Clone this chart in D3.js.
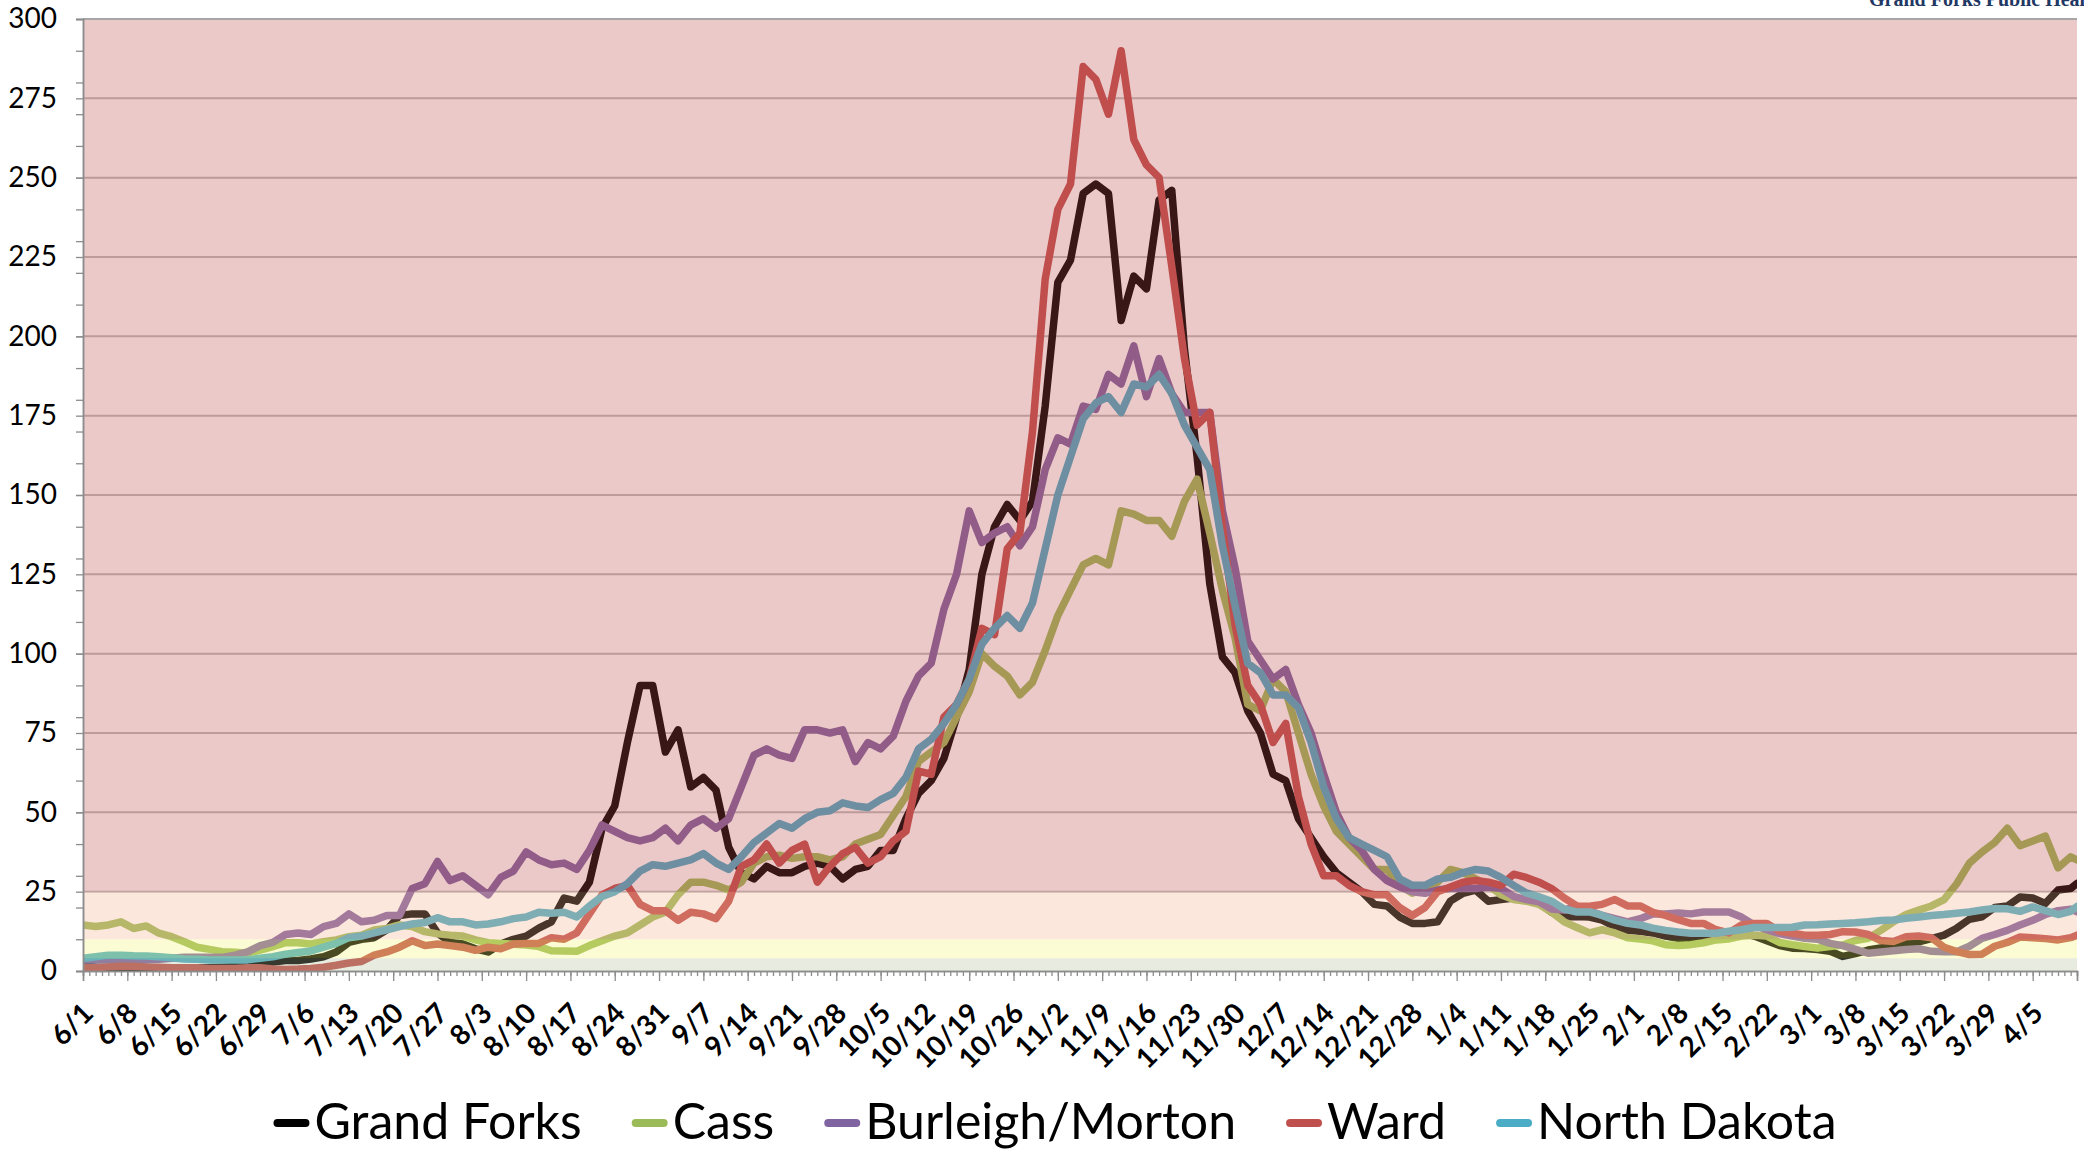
<!DOCTYPE html>
<html>
<head>
<meta charset="utf-8">
<script src="https://cdn.jsdelivr.net/npm/d3@7"></script>
<style>
  body { margin: 0; background: #ffffff; }
  svg { display: block; font-family: Lato, "Open Sans", sans-serif; }
</style>
</head>
<body>
<div id="grafica"></div>
<script>

// Fechas: primer día de la serie y días de muestra (cada 2 días, más el último)
var startDate = new Date(2020, 5, 1);
var lastDay = 315; // 4/12
var sampleDays = d3.range(0, lastDay, 2).concat([lastDay]);

// Valores (media móvil por 100.000), uno por día de muestra
var grandForks = [
  1.8, 1.2, 0.8, 0.5, 0.5, 0.6, 0.8, 0.8, 1.0, 1.0,
  1.0, 1.2, 1.4, 1.8, 2.2, 2.8, 3.3, 3.3, 3.8, 4.5,
  6.0, 9.0, 10.0, 10.5, 13.0, 17.5, 18.0, 18.0, 12.0, 9.0,
  8.5, 7.0, 6.0, 8.5, 10.0, 11.0, 13.5, 15.5, 23, 22,
  28, 45, 52, 72, 90, 90, 69, 76, 58, 61,
  57, 39, 31, 29, 33, 31, 31, 33, 34, 33,
  29, 32, 33, 38, 38, 48, 56, 60, 67, 80,
  95, 125, 140, 147, 142, 148, 178, 217, 224, 245,
  248, 245, 205, 219, 215, 243, 246, 196, 162, 122,
  99, 94, 82, 75, 62, 60, 48, 42, 36, 31,
  28, 25, 21, 20.5, 17, 15, 15, 15.5, 22, 24.5,
  25.5, 22, 22.5, 23, 22.5, 21.5, 18.5, 17, 17.2, 17,
  16, 14, 12.8, 12.5, 12, 11, 10.3, 10, 10.4, 11,
  12, 12.3, 11, 9.5, 8, 7.2, 7.1, 6.8, 6.2, 4.6,
  5.5, 6.6, 7.3, 7.9, 8.7, 9.2, 10.2, 11.3, 13.5, 16.3,
  17.1, 20, 20.5, 23.3, 23, 21.3, 25.5, 26, 27.6
];

var cass = [
  14.5, 14, 14.5, 15.5, 13.4, 14.2, 11.9, 10.8, 9.2, 7.5,
  6.8, 6.1, 5.9, 5.6, 6.6, 7.7, 8.9, 8.9, 8.5, 9.2,
  9.8, 10.8, 11.3, 12.9, 13.4, 14.5, 14, 12.4, 11.7, 11.3,
  11, 9.8, 8.9, 8.7, 8.4, 8.2, 7.7, 6.4, 6.3, 6.2,
  8, 9.5, 11, 12, 14.5, 17, 18.5, 24, 28, 28,
  27, 25.5, 28, 34, 36, 36.5, 35.5, 36, 36, 35,
  36, 40, 41.5, 43, 49, 55, 66, 69, 72, 80,
  88, 100, 96, 93, 87, 91, 101, 112, 120, 128,
  130, 128, 145, 144, 142, 142, 137, 148, 155, 138,
  120, 105, 84, 82, 92, 88, 75, 62, 52, 44,
  40, 36, 32, 32, 27, 24.5, 26, 28, 32, 31,
  29, 27, 24, 22.5, 22, 21, 18.5, 15.5, 13.7, 12,
  13, 12, 10.5, 10.1, 9.5, 8.3, 8, 8.3, 8.9, 9.8,
  10.1, 11, 11.3, 11, 9, 8.3, 7.7, 7.2, 7.7, 8.2,
  9.6, 10.3, 12.8, 15.5, 17.8, 19.2, 20.5, 22.5, 27.5, 34,
  37.5, 40.5, 45, 39.5, 41, 42.5, 32.5, 36, 35
];

var burleighMorton = [
  3.5, 3.5, 3.5, 3.2, 3.4, 3.5, 3.7, 4.0, 4.3, 4.3,
  4.3, 4.3, 5.0, 6.0, 8.0, 9.0, 11.5, 12.0, 11.5, 14.0,
  15.0, 18.0, 15.5, 16.0, 17.5, 17.5, 26.0, 27.5, 34.5, 28.5,
  30.0, 27.0, 24.0, 29.5, 31.5, 37.5, 35.0, 33.5, 34, 32,
  38, 46, 44, 42, 41, 42, 45, 41, 46, 48,
  45, 48, 58, 68, 70, 68, 67, 76, 76, 75,
  76, 66, 72, 70, 74, 85, 93, 97, 114, 125,
  145, 135, 138, 140, 134, 140, 158, 168, 166, 178,
  177, 188, 185, 197, 181, 193, 182, 176, 176, 176,
  145, 127, 104, 98, 92, 95, 84, 75, 62, 50,
  42, 38, 32, 28.5, 26.5, 25, 24.5, 25.5, 26, 26,
  26, 26.5, 26, 23.5, 22.5, 21.8, 19.5, 19.2, 20.5, 19,
  17.5, 16.5, 15.5, 16.5, 18, 18, 18.3, 18, 18.6, 18.6,
  18.6, 17, 14.5, 13, 11.8, 11, 10.3, 10, 8.7, 8,
  6.8, 5.6, 6, 6.4, 6.8, 7, 6.2, 6.1, 6.1, 7.8,
  10.3, 11.5, 12.8, 14.5, 16, 17.8, 19, 19.5, 18.7
];

var ward = [
  1.0, 1.0, 1.3, 1.5, 1.5, 1.3, 1.2, 1.0, 1.0, 1.0,
  0.8, 0.8, 0.8, 1.0, 1.0, 0.6, 0.5, 0.6, 0.8, 1.2,
  1.8, 2.5, 3.0, 5.0, 6.0, 7.5, 9.5, 8.0, 8.5, 8.0,
  7.5, 6.5, 7.5, 7.0, 8.5, 8.7, 8.7, 10.5, 10, 12,
  18, 24, 26, 27, 21, 19, 19, 16, 18.5, 18,
  16.5, 22, 33, 35, 40, 34, 38, 40, 28, 33,
  37, 39, 34, 36, 41, 44, 63, 62, 80, 84,
  92, 108, 106, 133, 138, 170, 218, 240, 248, 285,
  281, 270, 290, 262, 254, 250, 222, 193, 172, 176,
  140, 109, 90, 84, 72, 78, 55, 40, 30, 30,
  27, 25, 24, 24, 20, 17.5, 20, 25, 26.5, 28,
  28.5, 28, 27, 30.5, 29.5, 28, 26, 23, 20.5, 20.4,
  21, 22.5, 20.5, 20.5, 18.5, 17.5, 16.2, 15, 15, 13,
  12, 14.5, 15, 15, 12.5, 11.9, 11.3, 11.3, 11.5, 12.4,
  12.3, 11.5, 9.6, 9.3, 10.8, 11, 10.5, 7.5, 6.1, 5.2,
  5.3, 7.8, 9, 10.7, 10.5, 10.2, 9.8, 10.5, 11.3
];

var northDakota = [
  4.0, 4.5, 5.0, 5.0, 4.8, 4.7, 4.5, 4.2, 3.8, 3.7,
  3.5, 3.5, 3.5, 3.5, 4.0, 4.5, 5.3, 5.8, 6.3, 7.5,
  8.7, 10.5, 11.0, 12.0, 13.0, 14.0, 14.8, 15.3, 16.8, 15.5,
  15.5, 14.5, 14.8, 15.5, 16.5, 17.0, 18.5, 18.2, 18.5, 17,
  20.5, 23.5, 25, 27.5, 31.5, 33.5, 33, 34, 35, 37,
  34, 32, 36, 40.5, 43.5, 46.5, 45, 48, 50, 50.5,
  53, 52, 51.5, 54, 56, 61, 70, 73, 78, 84,
  92, 103, 108, 112, 108, 116, 133, 150, 162, 174,
  179, 181, 176, 185, 184, 188, 182, 172, 165, 158,
  134, 115, 97, 94, 87, 87, 83, 72, 58, 48,
  42, 40, 38, 36, 29, 27, 27, 29, 29.5, 31,
  32, 31.5, 29.5, 27, 24.6, 23.4, 22, 19.5, 18.6, 18.6,
  17.5, 16, 15, 14.5, 13.5, 12.8, 12.3, 11.9, 11.9, 11.9,
  12.5, 13, 13.7, 13.7, 13.7, 13.8, 14.5, 14.6, 14.8, 15,
  15.2, 15.5, 15.9, 16.1, 16.6, 17, 17.5, 17.8, 18.2, 18.6,
  19.2, 19.7, 19.6, 18.8, 20.2, 19, 17.8, 18.8, 20.3
];

var seriesNames = ["Grand Forks", "Cass", "Burleigh/Morton", "Ward", "North Dakota"];
var seriesValues = [grandForks, cass, burleighMorton, ward, northDakota];

// Marcas del eje y y bandas de riesgo (límites en el eje y)
var yTicks = d3.range(0, 301, 25);
var yMinorTicks = d3.range(0, 301, 10);
var bandLimits = [0, 4, 10, 25, 300];

// Colores
var seriesColors = ["#000000", "#9bbb59", "#8064a2", "#c0504d", "#4bacc6"];
var bandColors = ["#b2bc98", "#f2f270", "#f5af8a", "#bc4b4b"];
var bandOpacity = 0.3;

// Márgenes y tamaño
var width = 2084, height = 1150;
var margin = { top: 19, right: 7, bottom: 179, left: 83 };
var plotW = width - margin.left - margin.right;
var plotH = height - margin.top - margin.bottom;

var svg = d3.select("#grafica")
  .append("svg")
  .attr("width", width)
  .attr("height", height);

svg.append("rect")
  .attr("width", width)
  .attr("height", height)
  .attr("fill", "#ffffff");

var g = svg.append("g")
  .attr("transform", "translate(" + margin.left + "," + margin.top + ")");

// Escalas
var x = d3.scaleLinear().domain([0, lastDay]).range([0, plotW]);
var y = d3.scaleLinear().domain([0, 300]).range([plotH, 0]);
var fmt = d3.timeFormat("%-m/%-d");

// Líneas de la cuadrícula
g.selectAll(".grid")
  .data(yTicks.filter(function (d) { return d > 0 && d < 300; }))
  .enter()
  .append("line")
  .attr("x1", 0)
  .attr("x2", plotW)
  .attr("y1", function (d) { return y(d); })
  .attr("y2", function (d) { return y(d); })
  .attr("stroke", "#bdbdbd")
  .attr("stroke-width", 2);

// Recorte del área del gráfico
svg.append("defs").append("clipPath")
  .attr("id", "plotClip")
  .append("rect")
  .attr("width", plotW)
  .attr("height", plotH);

// Series
var line = d3.line()
  .x(function (d, i) { return x(sampleDays[i]); })
  .y(function (d) { return y(d); });

g.append("g")
  .attr("clip-path", "url(#plotClip)")
  .selectAll("path")
  .data(seriesValues)
  .enter()
  .append("path")
  .attr("d", line)
  .attr("fill", "none")
  .attr("stroke", function (d, i) { return seriesColors[i]; })
  .attr("stroke-width", 7.5)
  .attr("stroke-linejoin", "round")
  .attr("stroke-linecap", "round");

// Bandas de color (capa semitransparente sobre las líneas)
g.selectAll(".band")
  .data(bandColors)
  .enter()
  .append("rect")
  .attr("x", 0)
  .attr("width", plotW)
  .attr("y", function (d, i) { return y(bandLimits[i + 1]); })
  .attr("height", function (d, i) { return y(bandLimits[i]) - y(bandLimits[i + 1]); })
  .attr("fill", function (d) { return d; })
  .attr("opacity", bandOpacity);

// Borde superior
g.append("line")
  .attr("x1", 0).attr("x2", plotW)
  .attr("y1", 0).attr("y2", 0)
  .attr("stroke", "#a6a6a6")
  .attr("stroke-width", 2);

// Eje x: marcas diarias y semanales
var xMinor = g.append("g")
  .attr("transform", "translate(0," + plotH + ")")
  .call(d3.axisBottom(x).tickValues(d3.range(0, lastDay + 1)).tickSize(5).tickFormat(""));
var xMajor = g.append("g")
  .attr("transform", "translate(0," + plotH + ")")
  .call(d3.axisBottom(x).tickValues(d3.range(0, lastDay + 1, 7)).tickSize(10).tickFormat(""));
[xMinor, xMajor].forEach(function (a) {
  a.selectAll("line").attr("stroke", "#8c8c8c").attr("stroke-width", 1.3);
  a.select(".domain").attr("stroke", "#8c8c8c").attr("stroke-width", 1.5);
});

// Etiquetas del eje x (giradas)
g.selectAll(".xlab")
  .data(d3.range(0, lastDay, 7))
  .enter()
  .append("text")
  .attr("transform", function (d) {
    return "translate(" + (x(d) + 12) + "," + (plotH + 44) + ") rotate(-45)";
  })
  .attr("text-anchor", "end")
  .style("font-weight", "bold")
  .style("font-size", "28px")
  .attr("fill", "#000")
  .text(function (d) { return fmt(d3.timeDay.offset(startDate, d)); });

// Eje y
var yMinor = g.append("g")
  .call(d3.axisLeft(y).tickValues(yMinorTicks).tickSize(7).tickFormat(""));
var yMajor = g.append("g")
  .call(d3.axisLeft(y).tickValues(yTicks).tickSize(7).tickPadding(19));
[yMinor, yMajor].forEach(function (a) {
  a.selectAll("line").attr("stroke", "#8c8c8c").attr("stroke-width", 1.3);
  a.select(".domain").attr("stroke", "#8c8c8c").attr("stroke-width", 1.5);
});
yMajor.selectAll("text")
  .style("font-size", "28px")
  .style("font-family", "Lato, sans-serif")
  .attr("fill", "#000");

// Leyenda
var legend = svg.append("g");
var lx = 0;
seriesNames.forEach(function (name, i) {
  var item = legend.append("g").attr("transform", "translate(" + lx + ",0)");
  item.append("line")
    .attr("x1", 4).attr("x2", 32)
    .attr("y1", -16).attr("y2", -16)
    .attr("stroke", seriesColors[i])
    .attr("stroke-width", 8)
    .attr("stroke-linecap", "round");
  var t = item.append("text")
    .attr("x", 41)
    .attr("y", 0)
    .style("font-size", "50px")
    .attr("fill", "#000")
    .text(name);
  lx += 41 + t.node().getComputedTextLength() + 50;
});
var legendW = lx - 50;
legend.attr("transform", "translate(" + (1055 - legendW / 2) + ",1139)");

// Logotipo (cortado en el borde superior, como en el original)
svg.append("text")
  .attr("x", 1869)
  .attr("y", 6)
  .style("font-family", "'Liberation Serif', serif")
  .style("font-weight", "bold")
  .style("font-size", "20px")
  .attr("fill", "#1f3864")
  .text("Grand Forks Public Health");

</script>
</body>
</html>
